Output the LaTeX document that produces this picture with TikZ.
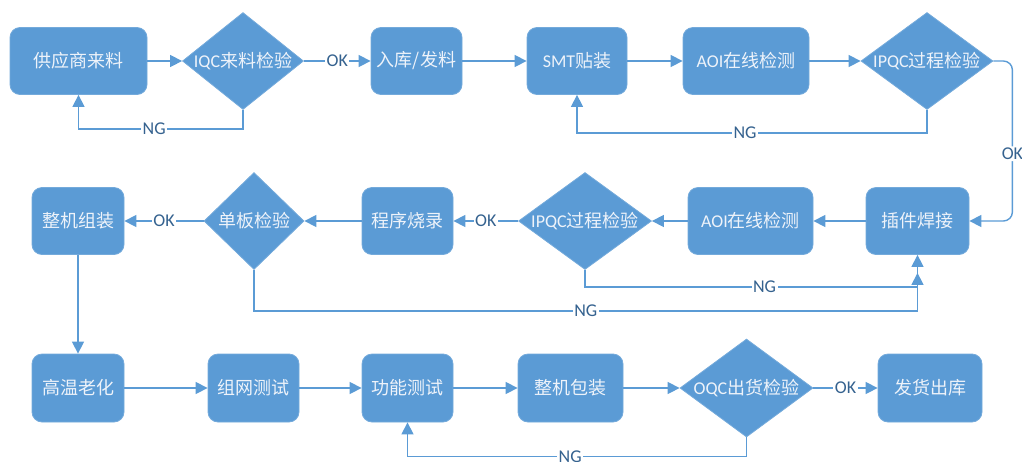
\documentclass[tikz,border=0pt]{standalone}
\usepackage{fontspec}
\setmainfont{Carlito}
\newfontfamily\cjk{Noto Sans CJK SC}
\usetikzlibrary{shapes.geometric,arrows.meta}
\definecolor{fc}{HTML}{5B9BD5}
\definecolor{lc}{HTML}{5B9BD5}
\definecolor{tc}{HTML}{EEF3FA}
\definecolor{lbc}{HTML}{35628F}
\tikzset{
  box/.style={rectangle, rounded corners=10pt, fill=fc, draw=fc!85!white, line width=0.8pt,
              minimum height=67pt, inner sep=0pt},
  dia/.style={diamond, fill=fc, draw=fc!85!white, line width=0.8pt, inner sep=0pt, minimum height=97pt},
  txt/.style={text=tc, font=\fontsize{18}{20}\selectfont, inner sep=0pt},
  arr/.style={draw=lc, line width=1.4pt, -{Triangle[length=12pt,width=12pt]}},
  lbl/.style={fill=white, text=lbc, font=\fontsize{18}{20}\selectfont, inner sep=1.5pt},
}
\begin{document}
\begin{tikzpicture}[x=1pt,y=-1pt]
\useasboundingbox (0,0) rectangle (1022,461);
% row 1
\node[box, minimum width=137pt] (s1) at (78.5,61) {};
\node[txt] at (s1) {\cjk 供应商来料};
\node[dia, minimum width=121pt] (d1) at (243,61) {};
\node[txt] at (d1) {IQC\cjk 来料检验};
\node[box, minimum width=91pt] (b2) at (416.5,61) {};
\node[txt] at (b2) {\cjk 入库/发料};
\node[box, minimum width=100pt] (b3) at (577,61) {};
\node[txt] at (b3) {SMT\cjk 贴装};
\node[box, minimum width=126pt] (b4) at (746,61) {};
\node[txt] at (b4) {AOI\cjk 在线检测};
\node[dia, minimum width=132pt] (d2) at (927,61) {};
\node[txt] at (d2) {IPQC\cjk 过程检验};
% row 2
\node[box, minimum width=103pt] (c1) at (917.5,221) {};
\node[txt] at (c1) {\cjk 插件焊接};
\node[box, minimum width=125pt] (c2) at (750.5,221) {};
\node[txt] at (c2) {AOI\cjk 在线检测};
\node[dia, minimum width=133pt] (d3) at (585,221) {};
\node[txt] at (d3) {IPQC\cjk 过程检验};
\node[box, minimum width=91pt] (c3) at (407.5,221) {};
\node[txt] at (c3) {\cjk 程序烧录};
\node[dia, minimum width=100pt] (d4) at (254,221) {};
\node[txt] at (d4) {\cjk 单板检验};
\node[box, minimum width=92pt] (c4) at (78,221) {};
\node[txt] at (c4) {\cjk 整机组装};
% row 3
\node[box, minimum width=92pt, minimum height=68pt] (e1) at (78,388) {};
\node[txt] at (e1) {\cjk 高温老化};
\node[box, minimum width=91pt, minimum height=68pt] (e2) at (253.5,388) {};
\node[txt] at (e2) {\cjk 组网测试};
\node[box, minimum width=91pt, minimum height=68pt] (e3) at (407.5,388) {};
\node[txt] at (e3) {\cjk 功能测试};
\node[box, minimum width=105pt, minimum height=68pt] (e4) at (570.5,388) {};
\node[txt] at (e4) {\cjk 整机包装};
\node[dia, minimum width=133pt, minimum height=98pt] (d5) at (746.5,388) {};
\node[txt] at (d5) {OQC\cjk 出货检验};
\node[box, minimum width=104pt, minimum height=68pt] (e5) at (930,388) {};
\node[txt] at (e5) {\cjk 发货出库};
\coordinate (m) at ([yshift=-18pt]c1.south);
% connectors row 1
\draw[arr] (s1.east) -- (d1.west);
\draw[arr] (d1.east) -- node[lbl]{OK} (b2.west);
\draw[arr] (b2.east) -- (b3.west);
\draw[arr] (b3.east) -- (b4.west);
\draw[arr] (b4.east) -- (d2.west);
\draw[arr] (d1.south) -- ++(0,19) -| node[lbl,pos=0.27]{NG} (s1.south);
\draw[arr] (d2.south) -- ++(0,23) -| node[lbl,pos=0.26]{NG} (b3.south);
\draw[arr, rounded corners=9pt] (d2.east) -- ++(19,0) |- node[lbl,pos=0.29]{OK} (c1.east);
% row 2
\draw[arr] (c1.west) -- (c2.east);
\draw[arr] (c2.west) -- (d3.east);
\draw[arr] (d3.west) -- node[lbl]{OK} (c3.east);
\draw[arr] (c3.west) -- (d4.east);
\draw[arr] (d4.west) -- node[lbl]{OK} (c4.east);
\draw[arr] (d4.south) -- ++(0,41) -| node[lbl,pos=0.25]{NG} (c1.south);
\draw[arr] (d3.south) -- ++(0,17) -| node[lbl,pos=0.27]{NG} (m);
% row 3
\draw[arr] (c4.south) -- (e1.north);
\draw[arr] (e1.east) -- (e2.west);
\draw[arr] (e2.east) -- (e3.west);
\draw[arr] (e3.east) -- (e4.west);
\draw[arr] (e4.east) -- (d5.west);
\draw[arr] (d5.east) -- node[lbl]{OK} (e5.west);
\draw[arr] (d5.south) -- ++(0,19) -| node[lbl,pos=0.26]{NG} (e3.south);
\end{tikzpicture}
\end{document}
